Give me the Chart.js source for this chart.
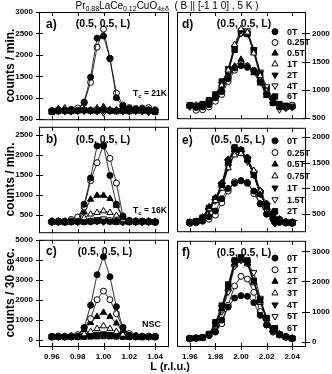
<!DOCTYPE html>
<html>
<head>
<meta charset="utf-8">
<script src="https://cdn.jsdelivr.net/npm/chart.js@4.4.1/dist/chart.umd.min.js"></script>
<style>
    body { margin: 0; background: #fff; }
    #fig { position: relative; width: 332px; height: 374px; overflow: hidden; background: #fff; }
    #fig canvas { position: absolute; }
</style>
</head>
<body>
<div id="fig">
    <canvas id="titles" width="332" height="374" style="left:0;top:0"></canvas>
    <canvas id="panelA" width="173" height="130" style="left:0;top:0"></canvas>
    <canvas id="panelD" width="160" height="130" style="left:172px;top:0"></canvas>
    <canvas id="panelB" width="173" height="127" style="left:0;top:116px"></canvas>
    <canvas id="panelE" width="160" height="127" style="left:172px;top:116px"></canvas>
    <canvas id="panelC" width="173" height="145" style="left:0;top:229px"></canvas>
    <canvas id="panelF" width="160" height="145" style="left:172px;top:229px"></canvas>
</div>

<script>
// L positions of the scans
const L_LEFT = [0.96, 0.965, 0.97, 0.975, 0.98, 0.985, 0.99, 0.995, 1.00, 1.005, 1.01, 1.015, 1.02, 1.025, 1.03, 1.035, 1.04];
const L_RIGHT = [1.96, 1.965, 1.97, 1.975, 1.98, 1.985, 1.99, 1.995, 2.00, 2.005, 2.01, 2.015, 2.02, 2.025, 2.03, 2.035, 2.04];
const X_TICKS_LEFT = [0.96, 0.98, 1.00, 1.02, 1.04];
const X_TICKS_RIGHT = [1.96, 1.98, 2.00, 2.02, 2.04];

// y tick labels per panel
const Y_TICKS_A = [500, 1000, 1500, 2000, 2500, 3000];
const Y_TICKS_B = [500, 1000, 1500, 2000, 2500];
const Y_TICKS_C = [0, 1000, 2000, 3000, 4000, 5000];
const Y_TICKS_D = [500, 1000, 1500, 2000];
const Y_TICKS_E = [500, 1000, 1500, 2000];
const Y_TICKS_F = [0, 1000, 2000, 3000];

// field labels
const FIELDS_AD = ['0T', '0.25T', '0.5T', '1T', '2T', '4T', '6T'];
const FIELDS_BE = ['0T', '0.25T', '0.5T', '0.75T', '1T', '1.5T', '2T', '6T'];
const FIELDS_CF = ['0T', '1T', '2T', '3T', '4T', '5T', '6T'];

// panel a (Tc = 21K), counts / min.
const a0T   = [690, 720, 700, 720, 710, 900, 1480, 2390, 2440, 1920, 1000, 800, 750, 730, 740, 720, 700];
const a025T = [700, 710, 720, 730, 760, 880, 1360, 2180, 2600, 1910, 1110, 830, 770, 750, 760, 770, 720];
const a05T  = [680, 720, 700, 690, 720, 700, 710, 720, 760, 700, 720, 690, 710, 700, 690, 700, 690];
const a1T   = [700, 740, 760, 720, 700, 730, 700, 760, 790, 720, 700, 720, 740, 700, 720, 690, 700];
const a2T   = [690, 700, 680, 700, 690, 700, 690, 700, 700, 690, 700, 680, 700, 690, 700, 690, 690];
const a4T   = [680, 690, 700, 680, 700, 690, 700, 680, 650, 700, 690, 700, 680, 700, 680, 660, 680];
const a6T   = [670, 690, 700, 690, 700, 710, 700, 700, 710, 700, 690, 700, 690, 700, 700, 690, 670];

// panel b (Tc = 16K)
const b0T   = [330, 330, 320, 340, 330, 760, 1420, 2220, 2220, 1480, 760, 450, 340, 330, 330, 320, 320];
const b025T = [320, 330, 340, 380, 440, 690, 1350, 1800, 2250, 1910, 1290, 470, 360, 340, 330, 330, 320];
const b05T  = [320, 330, 320, 330, 340, 560, 880, 980, 980, 900, 730, 430, 340, 330, 320, 330, 320];
const b075T = [330, 320, 330, 340, 360, 420, 510, 550, 590, 550, 480, 380, 340, 330, 330, 320, 330];
const b1T   = [320, 310, 320, 330, 320, 340, 330, 350, 340, 330, 340, 320, 330, 320, 310, 320, 320];
const b15T  = [310, 320, 330, 320, 330, 330, 350, 380, 400, 370, 340, 330, 320, 330, 320, 310, 320];
const b2T   = [320, 320, 310, 320, 330, 320, 330, 340, 350, 330, 320, 330, 320, 320, 330, 320, 310];
const b6T   = [330, 330, 320, 330, 320, 330, 330, 340, 330, 340, 330, 320, 330, 320, 320, 330, 320];

// panel c (NSC), counts / 30 sec.
const c0T = [160, 160, 150, 160, 170, 600, 1720, 3250, 4150, 3150, 1650, 620, 220, 170, 160, 160, 160];
const c1T = [160, 170, 160, 180, 250, 600, 1050, 2000, 2430, 2000, 1300, 600, 300, 200, 170, 160, 160];
const c2T = [150, 150, 160, 170, 220, 500, 850, 1150, 1360, 1150, 820, 450, 230, 170, 160, 150, 150];
const c3T = [150, 160, 150, 160, 190, 280, 400, 550, 680, 550, 400, 260, 190, 160, 150, 160, 150];
const c4T = [140, 150, 140, 150, 160, 190, 230, 280, 300, 270, 220, 180, 160, 150, 150, 140, 150];
const c5T = [150, 140, 150, 140, 150, 170, 190, 220, 240, 220, 190, 170, 150, 140, 150, 150, 140];
const c6T = [130, 140, 130, 140, 140, 150, 160, 170, 180, 170, 160, 150, 140, 140, 130, 140, 130];

// panel d
const d0T   = [730, 690, 700, 740, 860, 970, 1200, 1390, 1430, 1400, 1330, 1140, 920, 780, 700, 690, 700];
const d025T = [720, 640, 650, 700, 800, 920, 1150, 1350, 1460, 1420, 1350, 1160, 940, 770, 710, 700, 730];
const d05T  = [720, 700, 710, 760, 870, 1000, 1250, 1420, 1540, 1430, 1300, 1120, 900, 760, 700, 700, 710];
const d1T   = [710, 730, 720, 790, 880, 1080, 1350, 1800, 2080, 2020, 1650, 1250, 980, 800, 700, 690, 710];
const d2T   = [720, 710, 740, 800, 900, 1100, 1380, 1760, 2050, 2000, 1700, 1300, 1000, 820, 740, 720, 700];
const d4T   = [700, 700, 720, 780, 860, 1050, 1300, 1740, 2000, 2050, 1720, 1320, 1060, 850, 650, 680, 700];
const d6T   = [730, 720, 750, 820, 920, 1150, 1330, 1710, 2010, 1990, 1680, 1280, 1030, 840, 750, 720, 720];

// panel e
const e0T   = [330, 340, 370, 450, 560, 800, 1000, 1100, 1150, 1100, 950, 700, 500, 400, 340, 330, 320];
const e025T = [320, 330, 360, 400, 480, 720, 950, 1130, 1150, 1120, 900, 700, 500, 400, 340, 330, 320];
const e05T  = [330, 340, 440, 640, 820, 1050, 1500, 1760, 1760, 1550, 1250, 880, 640, 460, 370, 330, 330];
const e075T = [330, 350, 420, 600, 760, 1000, 1400, 1650, 1680, 1560, 1350, 950, 620, 450, 360, 340, 330];
const e1T   = [340, 340, 430, 610, 790, 1060, 1480, 1780, 1740, 1560, 1260, 890, 650, 470, 380, 340, 340];
const e15T  = [330, 340, 410, 580, 760, 1020, 1420, 1700, 1700, 1520, 1300, 920, 640, 460, 370, 330, 330];
const e2T   = [340, 360, 430, 620, 800, 1080, 1520, 1800, 1750, 1580, 1280, 900, 660, 480, 390, 340, 340];
const e6T   = [340, 350, 420, 600, 780, 1100, 1560, 1790, 1720, 1600, 1320, 950, 700, 520, 400, 350, 340];

// panel f
const f0T = [120, 130, 150, 230, 340, 720, 1150, 1450, 1530, 1510, 1300, 880, 560, 350, 240, 180, 120];
const f1T = [110, 120, 140, 200, 320, 600, 1210, 1850, 2170, 2080, 1640, 1000, 560, 320, 220, 150, 120];
const f2T = [100, 110, 130, 220, 560, 1100, 1800, 2600, 2730, 2620, 2000, 1350, 770, 400, 250, 160, 110];
const f3T = [100, 120, 140, 240, 520, 1050, 1750, 2550, 2700, 2580, 1950, 1300, 760, 420, 260, 160, 110];
const f4T = [110, 120, 150, 250, 600, 1150, 1850, 2650, 2780, 2650, 2050, 1400, 800, 420, 250, 170, 110];
const f5T = [100, 110, 140, 230, 580, 1000, 1650, 2500, 2700, 2600, 2300, 1450, 780, 430, 260, 160, 100];
const f6T = [110, 120, 140, 260, 650, 1200, 1900, 2700, 2800, 2700, 2000, 1380, 790, 410, 240, 160, 110];

const FONT = "'Liberation Sans', Arial, sans-serif";

const markerStyles = {
    fc: { pointStyle: 'circle', radius: 3, fill: '#000', rotation: 0 },
    oc: { pointStyle: 'circle', radius: 3, fill: '#fff', rotation: 0 },
    ft: { pointStyle: 'triangle', radius: 3.6, fill: '#000', rotation: 0 },
    ot: { pointStyle: 'triangle', radius: 3.6, fill: '#fff', rotation: 0 },
    fd: { pointStyle: 'triangle', radius: 3.6, fill: '#000', rotation: 180 },
    od: { pointStyle: 'triangle', radius: 3.6, fill: '#fff', rotation: 180 },
    fs: { pointStyle: 'rect', radius: 3.8, fill: '#000', rotation: 0 },
    fdm: { pointStyle: 'rectRot', radius: 3.8, fill: '#000', rotation: 0 }
};
const MARKERS_AD = ['fc', 'oc', 'ft', 'ot', 'fd', 'od', 'fs'];
const MARKERS_BE = ['fc', 'oc', 'ft', 'ot', 'fd', 'od', 'fs', 'fdm'];
const MARKERS_CF = ['fc', 'oc', 'ft', 'ot', 'fd', 'od', 'fs'];

const panelConfigs = {};

// figure title and common x label
function drawTitles() {
    const ctx = document.getElementById('titles').getContext('2d');
    ctx.fillStyle = '#000';
    ctx.textBaseline = 'alphabetic';
    const parts = [
        ['Pr', 10, 0], ['0.88', 7, 2], ['LaCe', 10, 0], ['0.12', 7, 2], ['CuO', 10, 0], ['4±δ', 7, 2],
        ['  ( B || [-1 1 0] , 5 K )', 10, 0]
    ];
    let width = 0;
    parts.forEach(pt => {
        ctx.font = pt[1] + 'px ' + FONT;
        width += ctx.measureText(pt[0]).width;
    });
    let x = 167 - width / 2;
    parts.forEach(pt => {
        ctx.font = pt[1] + 'px ' + FONT;
        ctx.fillText(pt[0], x, 8.5 + pt[2]);
        x += ctx.measureText(pt[0]).width;
    });
    ctx.font = 'bold 11px ' + FONT;
    ctx.textAlign = 'center';
    ctx.textBaseline = 'middle';
    ctx.fillText('L (r.l.u.)', 170, 367);
}

function drawMarker(ctx, m, x, y) {
    const r = m.radius;
    ctx.beginPath();
    if (m.pointStyle === 'circle') {
        ctx.arc(x, y, r, 0, Math.PI * 2);
    } else if (m.pointStyle === 'triangle') {
        const s = m.rotation ? -1 : 1;
        ctx.moveTo(x, y - s * r);
        ctx.lineTo(x + r * 0.866, y + s * r * 0.5);
        ctx.lineTo(x - r * 0.866, y + s * r * 0.5);
        ctx.closePath();
    } else if (m.pointStyle === 'rect') {
        const h = r * Math.SQRT1_2;
        ctx.rect(x - h, y - h, 2 * h, 2 * h);
    } else {
        ctx.moveTo(x, y - r);
        ctx.lineTo(x + r, y);
        ctx.lineTo(x, y + r);
        ctx.lineTo(x - r, y);
        ctx.closePath();
    }
    ctx.fillStyle = m.fill;
    ctx.fill();
    ctx.lineWidth = 1;
    ctx.strokeStyle = '#000';
    ctx.stroke();
}

// frame, inward ticks, panel texts and legend
const panelDeco = {
    id: 'panelDeco',
    afterDraw(chart) {
        const p = panelConfigs[chart.canvas.id];
        if (!p) return;
        const ctx = chart.ctx;
        const { left, right, top, bottom } = chart.chartArea;
        ctx.save();
        ctx.strokeStyle = '#000';
        ctx.lineWidth = 1;
        ctx.strokeRect(left + 0.5, top + 0.5, right - left, bottom - top);

        ctx.beginPath();
        const xs = chart.scales.x;
        p.xTicks.forEach(v => {
            const px = Math.round(xs.getPixelForValue(v)) + 0.5;
            ctx.moveTo(px, top);
            ctx.lineTo(px, top + 4);
            ctx.moveTo(px, p.showX ? bottom + 4 : bottom + 1);
            ctx.lineTo(px, bottom - 3);
        });
        const ys = chart.scales.y;
        p.yTicks.forEach(v => {
            const py = Math.round(ys.getPixelForValue(v)) + 0.5;
            if (p.side === 'left') {
                ctx.moveTo(left - 3, py);
                ctx.lineTo(left + 4, py);
            } else {
                ctx.moveTo(right - 3, py);
                ctx.lineTo(right + 5, py);
            }
        });
        ctx.stroke();

        ctx.fillStyle = '#000';
        ctx.textBaseline = 'middle';
        ctx.textAlign = 'left';
        ctx.font = 'bold 12px ' + FONT;
        ctx.fillText(p.letter, left + p.letterPos[0], top + p.letterPos[1]);
        ctx.textAlign = 'center';
        ctx.font = 'bold 10.5px ' + FONT;
        ctx.fillText('(0.5, 0.5, L)', left + p.hklPos[0], top + p.hklPos[1]);

        if (p.tc) {
            let x = left + p.tcPos[0];
            const y = top + p.tcPos[1];
            ctx.textAlign = 'left';
            ctx.font = 'bold 8.5px ' + FONT;
            ctx.fillText('T', x, y);
            x += ctx.measureText('T').width;
            ctx.font = 'bold 6px ' + FONT;
            ctx.fillText('c', x, y + 2.5);
            x += ctx.measureText('c').width;
            ctx.font = 'bold 8.5px ' + FONT;
            ctx.fillText(' = ' + p.tc, x, y);
        }
        if (p.note) {
            ctx.textAlign = 'left';
            ctx.font = 'bold 9px ' + FONT;
            ctx.fillText(p.note, left + p.notePos[0], top + p.notePos[1]);
        }
        if (p.legend) {
            ctx.textAlign = 'left';
            p.labels.forEach((lab, i) => {
                const y = top + p.legend.y + i * p.legend.dy;
                drawMarker(ctx, markerStyles[p.markers[i]], left + p.legend.x, y);
                ctx.fillStyle = '#000';
                ctx.font = 'bold 9px ' + FONT;
                ctx.fillText(lab, left + p.legend.x + 12, y + 0.5);
            });
        }
        ctx.restore();
    }
};
Chart.register(panelDeco);

function buildDatasets(xs, markers, labels, series) {
    return series.map((vals, i) => {
        const m = markerStyles[markers[i]];
        return {
            label: labels[i],
            data: xs.map((x, j) => ({ x: x, y: vals[j] })),
            borderColor: '#000',
            borderWidth: 0.8,
            pointStyle: m.pointStyle,
            pointRadius: m.radius,
            pointRotation: m.rotation,
            pointBackgroundColor: m.fill,
            pointBorderColor: '#000',
            pointBorderWidth: 1,
            showLine: true,
            fill: false,
            tension: 0
        };
    });
}

function createPanel(canvasId, p) {
    panelConfigs[canvasId] = p;
    const isLeft = p.side === 'left';
    const canvas = document.getElementById(canvasId).getContext('2d');
    return new Chart(canvas, {
        type: 'line',
        data: { datasets: buildDatasets(p.xs, p.markers, p.labels, p.series) },
        options: {
            responsive: false,
            animation: false,
            devicePixelRatio: 1,
            events: [],
            layout: { padding: { top: p.padTop, bottom: p.padBottom, left: 0, right: isLeft ? 1 : 0 } },
            plugins: { legend: { display: false }, tooltip: { enabled: false } },
            scales: {
                x: {
                    type: 'linear',
                    min: p.xMin,
                    max: p.xMax,
                    display: p.showX,
                    grid: { display: false, drawTicks: false },
                    border: { display: false },
                    afterBuildTicks: s => { s.ticks = p.xTicks.map(v => ({ value: v })); },
                    ticks: {
                        autoSkip: false,
                        maxRotation: 0,
                        padding: 6,
                        color: '#000',
                        font: { size: 8, weight: 'bold', family: FONT },
                        callback: v => Number(v).toFixed(2)
                    },
                    afterFit: s => { s.height = p.showX ? 28 : 0; }
                },
                y: {
                    position: p.side,
                    min: p.yMin,
                    max: p.yMax,
                    grid: { display: false, drawTicks: false },
                    border: { display: false },
                    afterBuildTicks: s => { s.ticks = p.yTicks.map(v => ({ value: v })); },
                    ticks: {
                        autoSkip: false,
                        padding: isLeft ? 6 : 7,
                        color: '#000',
                        font: { size: 8, weight: 'bold', family: FONT },
                        callback: v => String(v)
                    },
                    title: {
                        display: isLeft,
                        text: p.yTitle || '',
                        color: '#000',
                        font: { size: 12, weight: 'bold', family: FONT },
                        padding: { top: 3, bottom: 0 }
                    },
                    afterFit: s => { s.width = isLeft ? 39 : 27; }
                }
            }
        }
    });
}

drawTitles();

createPanel('panelA', {
    side: 'left', xs: L_LEFT, xTicks: X_TICKS_LEFT, xMin: 0.95, xMax: 1.05, showX: false,
    labels: FIELDS_AD, markers: MARKERS_AD, series: [a0T, a025T, a05T, a1T, a2T, a4T, a6T],
    yMin: 500, yMax: 3000, yTicks: Y_TICKS_A, yTitle: 'counts / min.', padTop: 12, padBottom: 7,
    letter: 'a)', letterPos: [7, 13], hklPos: [64, 12], tc: '21K', tcPos: [94, 82]
});
createPanel('panelB', {
    side: 'left', xs: L_LEFT, xTicks: X_TICKS_LEFT, xMin: 0.95, xMax: 1.05, showX: false,
    labels: FIELDS_BE, markers: MARKERS_BE, series: [b0T, b025T, b05T, b075T, b1T, b15T, b2T, b6T],
    yMin: 60, yMax: 2700, yTicks: Y_TICKS_B, yTitle: 'counts / min.', padTop: 7, padBottom: 7,
    letter: 'b)', letterPos: [7, 13], hklPos: [64, 13.5], tc: '16K', tcPos: [94, 84]
});
createPanel('panelC', {
    side: 'left', xs: L_LEFT, xTicks: X_TICKS_LEFT, xMin: 0.95, xMax: 1.05, showX: true,
    labels: FIELDS_CF, markers: MARKERS_CF, series: [c0T, c1T, c2T, c3T, c4T, c5T, c6T],
    yMin: -320, yMax: 5000, yTicks: Y_TICKS_C, yTitle: 'counts / 30 sec.', padTop: 7, padBottom: 0,
    letter: 'c)', letterPos: [7, 12], hklPos: [66, 12], note: 'NSC', notePos: [103, 84.5]
});
createPanel('panelD', {
    side: 'right', xs: L_RIGHT, xTicks: X_TICKS_RIGHT, xMin: 1.95, xMax: 2.05, showX: false,
    labels: FIELDS_AD, markers: MARKERS_AD, series: [d0T, d025T, d05T, d1T, d2T, d4T, d6T],
    yMin: 500, yMax: 2380, yTicks: Y_TICKS_D, padTop: 12, padBottom: 7,
    letter: 'd)', letterPos: [5, 13], hklPos: [67, 12], legend: { x: 98, y: 19.7, dy: 10.8 }
});
createPanel('panelE', {
    side: 'right', xs: L_RIGHT, xTicks: X_TICKS_RIGHT, xMin: 1.95, xMax: 2.05, showX: false,
    labels: FIELDS_BE, markers: MARKERS_BE, series: [e0T, e025T, e05T, e075T, e1T, e15T, e2T, e6T],
    yMin: 166, yMax: 2184, yTicks: Y_TICKS_E, padTop: 7, padBottom: 7,
    letter: 'e)', letterPos: [5, 13], hklPos: [61, 12], legend: { x: 98, y: 13, dy: 11.75 }
});
createPanel('panelF', {
    side: 'right', xs: L_RIGHT, xTicks: X_TICKS_RIGHT, xMin: 1.95, xMax: 2.05, showX: true,
    labels: FIELDS_CF, markers: MARKERS_CF, series: [f0T, f1T, f2T, f3T, f4T, f5T, f6T],
    yMin: -140, yMax: 3350, yTicks: Y_TICKS_F, padTop: 7, padBottom: 0,
    letter: 'f)', letterPos: [5, 11.5], hklPos: [67, 12], legend: { x: 98, y: 17.3, dy: 11.67 }
});
</script>
</body>
</html>
